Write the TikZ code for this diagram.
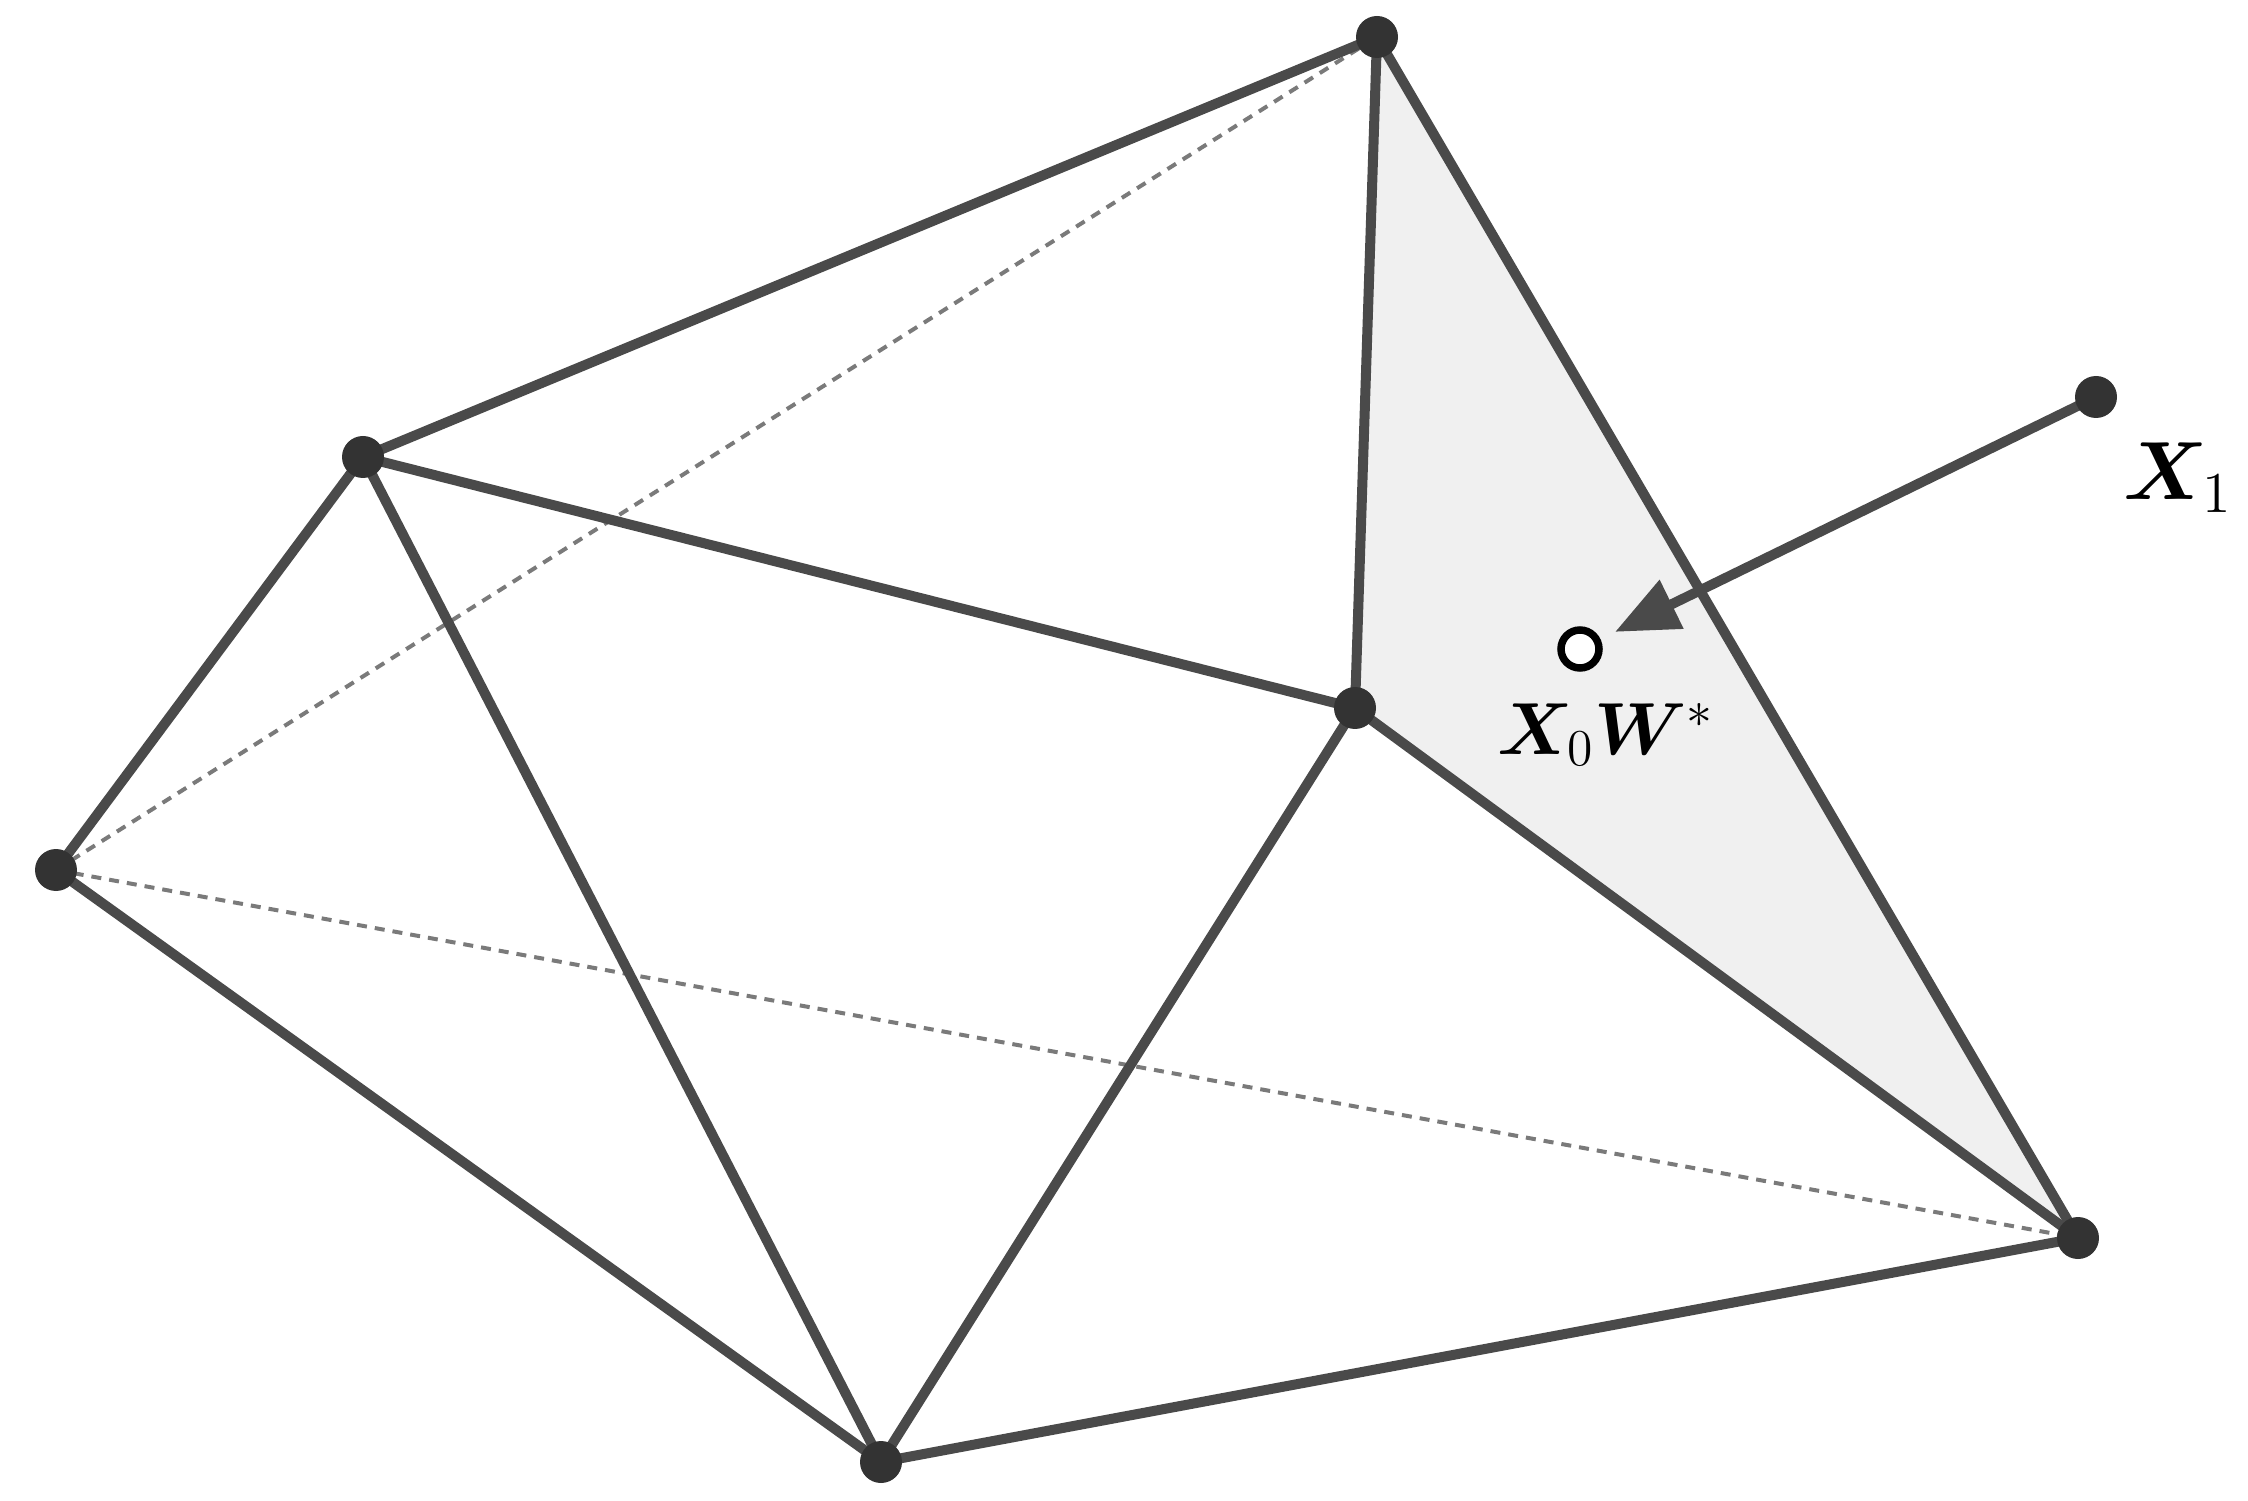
\RequirePackage{fix-cm}
\documentclass[tikz,border=0pt]{standalone}
\usepackage{amssymb,amsmath}
\usepackage{bm}
\usetikzlibrary{arrows.meta,backgrounds}
\definecolor{edge}{HTML}{4A4A4A}
\definecolor{vertex}{HTML}{333333}
\definecolor{hidden}{HTML}{7A7A7A}
\definecolor{face}{HTML}{F0F0F0}
\tikzset{vertex/.style={circle,fill=vertex,inner sep=0pt,outer sep=0pt,minimum size=0.42cm}}
\tikzset{edge/.style={draw=edge,line width=0.1cm}}
\tikzset{hidden/.style={draw=hidden,line width=0.04cm,dash pattern=on 0.1cm off 0.08cm}}
\tikzset{target/.style={circle,draw=black,fill=white,line width=0.075cm,inner sep=0pt,outer sep=0pt,minimum size=0.38cm}}
\tikzset{lbl/.style={inner sep=0pt,anchor=base,font=\fontsize{21pt}{25pt}\selectfont}}

\begin{document}
\begin{tikzpicture}
                \useasboundingbox (0,0) rectangle (22.48,15);
                
                \node[vertex] (a) at (0.56, 6.30) {};
                \node[vertex] (b) at (3.63, 10.43) {};
                \node[vertex] (c) at (13.77, 14.63) {};
                \node[vertex] (d) at (13.55, 7.92) {};
                \node[vertex] (e) at (20.78, 2.62) {};
                \node[vertex] (f) at (8.81, 0.38) {};
                \node[vertex] (x1) at (20.96, 11.03) {};
                \node[target] (w) at (15.80, 8.51) {};
                \node[lbl] (wlabel) at (16.06, 7.46) {$\bm{X}_0\bm{W}^*$};
                \node[lbl,font=\fontsize{23.5pt}{28pt}\selectfont] (xlabel) at (21.78, 10.0) {$\bm{X}_1$};
                \begin{scope}[on background layer]
                \fill[face] (c.center) -- (d.center) -- (e.center) -- cycle;
                \draw[hidden] (a.center) -- (c.center);
                \draw[hidden] (a.center) -- (e.center);
                \draw[edge] (a.center) -- (b.center);
                \draw[edge] (b.center) -- (c.center);
                \draw[edge] (b.center) -- (d.center);
                \draw[edge] (c.center) -- (d.center);
                \draw[edge] (c.center) -- (e.center);
                \draw[edge] (d.center) -- (e.center);
                \draw[edge] (a.center) -- (f.center);
                \draw[edge] (b.center) -- (f.center);
                \draw[edge] (d.center) -- (f.center);
                \draw[edge] (f.center) -- (e.center);
                \draw[edge,-{Triangle[length=0.63cm,width=0.52cm]},shorten >=0.2cm] (x1.center) -- (w);
                \end{scope}
                \end{tikzpicture}
\end{document}
